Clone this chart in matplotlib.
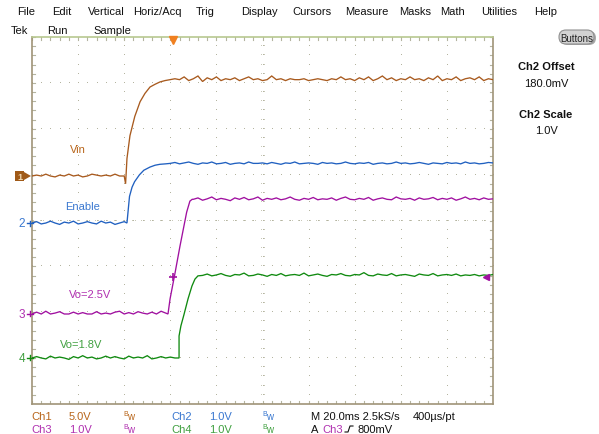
import matplotlib
matplotlib.use('Agg')
import matplotlib.pyplot as plt
from matplotlib.patches import FancyBboxPatch, Rectangle, Polygon
import numpy as np

plt.rcParams['font.family'] = ['Liberation Sans', 'DejaVu Sans']

# ---------------- data (time in ms, voltage in V) ----------------
vin_t = [*range(0, 41, 2), 40.6, 41.2, 42.5, 44.6, 46.9, 49.0, 51.2, 53.4, 55.5, 57.7, 59.9, *range(62, 201, 2)]
vin_v = [0.0, 0.1, 0.0, 0.2, 0.0, -0.1, 0.1, 0.0, 0.2, 0.0, 0.1, -0.1, 0.0, 0.2, 0.1, 0.0, 0.1, 0.0, 0.2, 0.0, 0.0,
         -0.85, 1.9, 4.4, 6.5, 8.1, 9.0, 9.7, 10.0, 10.25, 10.4, 10.5,
         10.6, 10.5, 10.8, 10.4, 10.6, 10.9, 10.3, 10.7, 10.5, 10.8, 10.4, 10.6, 10.5, 10.7, 10.4, 10.6, 10.8, 10.5, 10.6, 10.4,
         10.5, 10.9, 10.5, 10.6, 10.4, 10.6, 10.5, 10.5, 10.6, 10.4, 10.5, 10.6, 10.5, 10.4, 10.6, 10.5, 10.8, 10.5, 10.6, 10.4,
         10.7, 10.5, 10.8, 10.4, 10.6, 10.9, 10.5, 10.7, 10.4, 10.6, 10.5, 10.8, 10.5, 10.6, 10.4, 10.7, 10.5, 10.9, 10.4, 10.6,
         10.5, 10.8, 10.4, 10.6, 10.7, 10.5, 10.8, 10.4, 10.6, 10.5]

en_t = [*range(0, 41, 2), 41.2, 42.3, 43.4, 44.5, 46.6, 48.5, 51.2, 53.4, 55.5, 58.0, *range(60, 201, 2)]
en_v = [0.0, 0.03, -0.02, 0.0, 0.04, 0.0, -0.03, 0.02, 0.0, 0.04, -0.02, 0.0, 0.03, 0.0, -0.02, 0.04, 0.0, 0.02, -0.03, 0.0, 0.03,
        0.0, 0.58, 0.78, 0.90, 1.05, 1.15, 1.22, 1.26, 1.28, 1.29,
        1.30, 1.32, 1.29, 1.31, 1.33, 1.30, 1.28, 1.31, 1.30, 1.33, 1.29, 1.30, 1.32, 1.28, 1.30, 1.31, 1.29, 1.33, 1.30, 1.30,
        1.31, 1.29, 1.32, 1.30, 1.28, 1.31, 1.30, 1.33, 1.29, 1.30, 1.31, 1.30, 1.28, 1.32, 1.30, 1.31, 1.29, 1.30, 1.33, 1.30,
        1.29, 1.31, 1.30, 1.32, 1.28, 1.30, 1.31, 1.29, 1.30, 1.33, 1.30, 1.31, 1.29, 1.30, 1.32, 1.30, 1.28, 1.31, 1.30, 1.29,
        1.32, 1.30, 1.31, 1.29, 1.33, 1.30, 1.31, 1.29, 1.30, 1.32, 1.31]

vo25_t = [*range(0, 59, 2), 59.0, 59.9, 62.0, 64.2, 67.1, 68.5, 69.5, *range(70, 201, 2)]
vo25_v = [0.0, 0.04, 0.0, 0.06, 0.0, 0.02, 0.05, 0.0, 0.0, 0.04, 0.0, 0.03, 0.0, 0.0, 0.05, 0.0, 0.02, 0.0, 0.04, 0.06,
          0.0, 0.03, 0.0, 0.05, 0.02, 0.0, 0.04, 0.0, 0.06, 0.02,
          0.0, 0.33, 0.88, 1.48, 2.22, 2.46, 2.50,
          2.50, 2.53, 2.48, 2.51, 2.55, 2.49, 2.52, 2.50, 2.47, 2.53, 2.50, 2.54, 2.49, 2.51, 2.55, 2.48, 2.52, 2.50, 2.53, 2.49,
          2.51, 2.55, 2.50, 2.48, 2.52, 2.50, 2.54, 2.49, 2.51, 2.50, 2.53, 2.48, 2.52, 2.55, 2.50, 2.49, 2.52, 2.50, 2.54, 2.48,
          2.51, 2.53, 2.50, 2.49, 2.55, 2.51, 2.50, 2.52, 2.48, 2.53, 2.50, 2.51, 2.54, 2.49, 2.52, 2.50, 2.53, 2.48, 2.51, 2.55,
          2.50, 2.52, 2.49, 2.53, 2.50, 2.51]

vo18_t = [*range(0, 63, 2), 63.8, 63.8, 64.6, 65.9, 67.7, 69.4, 70.7, 72.0, *range(74, 201, 2)]
vo18_v = [0.0, 0.03, 0.0, -0.02, 0.04, 0.0, 0.02, 0.0, -0.03, 0.03, 0.0, 0.05, 0.0, 0.02, -0.02, 0.0, 0.04, 0.0, 0.03, 0.0,
          -0.02, 0.04, 0.0, 0.02, 0.0, 0.05, -0.02, 0.0, 0.03, 0.0, 0.02, 0.0,
          0.0, 0.48, 0.70, 0.94, 1.29, 1.57, 1.72, 1.79,
          1.80, 1.83, 1.79, 1.81, 1.84, 1.80, 1.78, 1.82, 1.81, 1.85, 1.79, 1.80, 1.83, 1.81, 1.78, 1.82, 1.80, 1.84, 1.79, 1.81,
          1.82, 1.80, 1.85, 1.79, 1.81, 1.83, 1.80, 1.78, 1.82, 1.81, 1.84, 1.80, 1.79, 1.82, 1.81, 1.86, 1.80, 1.79, 1.83, 1.81,
          1.80, 1.84, 1.79, 1.81, 1.82, 1.80, 1.78, 1.83, 1.81, 1.80, 1.84, 1.79, 1.81, 1.82, 1.80, 1.83, 1.79, 1.81, 1.80, 1.82,
          1.79, 1.81, 1.80, 1.82]

trace_labels = ["Vin", "Enable", "Vo=2.5V", "Vo=1.8V"]
ch_names = ["Ch1", "Ch2", "Ch3", "Ch4"]
ch_scales_txt = ["5.0V", "1.0V", "1.0V", "1.0V"]
ch_scale = [5.0, 1.0, 1.0, 1.0]          # V/div
trig_time = 61.2                          # ms
trig_level = 0.8                          # V on Ch3
menu_items = ["File", "Edit", "Vertical", "Horiz/Acq", "Trig", "Display", "Cursors",
              "Measure", "Masks", "Math", "Utilities", "Help"]
status_items = ["Tek", "Run", "Sample"]
side_texts = ["Ch2 Offset", "180.0mV", "Ch2 Scale", "1.0V"]
horiz_txt = "M 20.0ms 2.5kS/s"
rate_txt = "400\u00b5s/pt"
trig_txt = "800mV"

# ---------------- style ----------------
W, H = 599, 435
L, T, R, B = 32, 38, 493, 405
offsets = [4.97, 3.945, 1.962, 1.003]    # ground positions in divisions
trace_col = ['#A85A1E', '#2060C0', '#A010A0', '#108A10']
text_col = ['#B8651A', '#3A78D0', '#B030B0', '#40A040']
grid_col = '#B4B4A0'

fig = plt.figure(figsize=(W / 100, H / 100), dpi=100)
fig.patch.set_facecolor('white')
ax = fig.add_axes([L / W, 1 - B / H, (R - L) / W, (B - T) / H])
ax.set_xlim(0, 200)
ax.set_ylim(0, 8)
ax.set_xticks([])
ax.set_yticks([])
for s in ['left', 'bottom', 'right']:
    ax.spines[s].set_color('#A09478')
    ax.spines[s].set_linewidth(1.2)
ax.spines['top'].set_color('#B8C890')
ax.spines['top'].set_linewidth(1.2)

# graticule dots
for i in range(1, 10):
    ys = np.arange(0, 8.001, 0.2)
    ax.plot(np.full_like(ys, i * 20.0), ys, ',', color=grid_col, zorder=1)
for j in range(1, 8):
    xs = np.arange(0, 200.001, 4)
    ax.plot(xs, np.full_like(xs, float(j)), ',', color=grid_col, zorder=1)
# edge ticks and center ticks
tx = 0.065 * 20
ty = 0.065
cgrid = '#C8C8B8'
for xv in np.arange(0, 200.001, 4):
    ax.plot([xv, xv], [0, ty], color=grid_col, lw=0.8, zorder=1)
    ax.plot([xv, xv], [8 - ty, 8], color=grid_col, lw=0.8, zorder=1)
    ax.plot([xv - 0.6, xv + 0.6], [4, 4], ',', color=cgrid, zorder=1)
for yv in np.arange(0, 8.001, 0.2):
    ax.plot([0, tx], [yv, yv], color=grid_col, lw=0.8, zorder=1)
    ax.plot([200 - tx, 200], [yv, yv], color=grid_col, lw=0.8, zorder=1)
    ax.plot([99.4, 100.6], [yv, yv], ',', color=cgrid, zorder=1)

# traces
traces = [(vin_t, vin_v), (en_t, en_v), (vo25_t, vo25_v), (vo18_t, vo18_v)]
for k, (t, v) in enumerate(traces):
    y = offsets[k] + np.asarray(v) / ch_scale[k]
    ax.plot(t, y, color=trace_col[k], lw=0.95, zorder=3, solid_joinstyle='miter')

# trigger markers
ax.plot([trig_time], [offsets[2] + trig_level / ch_scale[2]], marker='+', color=trace_col[2],
        ms=6, mew=1.2, zorder=4)
ax.plot([197], [offsets[2] + trig_level / ch_scale[2]], marker='<', color=trace_col[2],
        ms=5, zorder=4, clip_on=False)
ax.plot([trig_time], [7.93], marker='v', color='#F08020', ms=6, zorder=4, clip_on=False)

# overlay in pixel coordinates
ov = fig.add_axes([0, 0, 1, 1], zorder=5)
ov.set_xlim(0, W)
ov.set_ylim(H, 0)
ov.axis('off')
ov.patch.set_alpha(0)

fs = 8
menu_x = [17, 52, 88, 133, 196, 241, 292, 345, 399, 440, 481, 534]
for x, s in zip(menu_x, menu_items):
    ov.text(x, 12, s, fontsize=fs, va='center', ha='left', color='#111111')
for x, s in zip([11, 47, 93], status_items):
    ov.text(x, 31, s, fontsize=fs, va='center', ha='left', color='#111111')

# Buttons pill
ov.add_patch(FancyBboxPatch((561, 32), 35, 14, boxstyle='round,pad=0,rounding_size=7',
                            fc='#A8A8A8', ec='none'))
ov.add_patch(FancyBboxPatch((559, 31), 35, 14, boxstyle='round,pad=0,rounding_size=7',
                            fc='#D2D2D2', ec='#909090', lw=0.8))
ov.text(577, 38.5, "Buttons", fontsize=7, va='center', ha='center', color='#222222')

side_y = [66.5, 84, 115, 131]
for i, (yy, s) in enumerate(zip(side_y, side_texts)):
    ov.text(546, yy, s, fontsize=8, va='center', ha='center', color='#111111',
            fontweight='bold' if i % 2 == 0 else 'normal')

# trace labels
lab_pos = [(70, 150), (65, 207), (69, 295), (60, 345)]
for k, (x, yy) in enumerate(lab_pos):
    ov.text(x, yy, trace_labels[k], fontsize=fs, va='center', ha='left', color=text_col[k])

# ground markers
gy = [B - offsets[k] * (B - T) / 8 for k in range(4)]
ov.add_patch(Rectangle((15, gy[0] - 5), 9, 10, fc='#A05A18', ec='none'))
ov.text(19.5, gy[0], "1", fontsize=6.5, va='center', ha='center', color='#F0D8B0', fontweight='bold')
ov.add_patch(Polygon([[24, gy[0] - 4], [31, gy[0]], [24, gy[0] + 4]], closed=True, fc='#A05A18', ec='none'))
for k in range(1, 4):
    ov.text(25, gy[k], str(k + 1), fontsize=8.5, va='center', ha='right', color=text_col[k])
    ov.plot([27, 33], [gy[k], gy[k]], color=trace_col[k], lw=1)
    ov.plot([30, 30], [gy[k] - 2.5, gy[k] + 2.5], color=trace_col[k], lw=1)

# bottom status
rows = [417, 430]
cols = [(31, 69, 123), (171, 209, 262)]
for k in range(4):
    r = rows[k // 2]
    cx = cols[k % 2]
    ov.text(cx[0], r, ch_names[k], fontsize=fs, va='center', ha='left', color=text_col[k])
    ov.text(cx[1], r, ch_scales_txt[k], fontsize=fs, va='center', ha='left', color=text_col[k])
    ov.text(cx[2], r - 2, "B", fontsize=5, va='center', ha='left', color=text_col[k])
    ov.text(cx[2] + 4, r + 0.5, "w", fontsize=7, va='center', ha='left', color=text_col[k])
ov.text(311, rows[0], horiz_txt, fontsize=fs, va='center', ha='left', color='#111111')
ov.text(413, rows[0], rate_txt, fontsize=fs, va='center', ha='left', color='#111111')
ov.text(311, rows[1], "A", fontsize=fs, va='center', ha='left', color='#111111')
ov.text(322, rows[1], ch_names[2], fontsize=fs, va='center', ha='left', color=text_col[2])
ov.plot([345, 348, 350, 353], [rows[1] + 3, rows[1] + 3, rows[1] - 3, rows[1] - 3], color='#111111', lw=0.8)
ov.text(358, rows[1], trig_txt, fontsize=fs, va='center', ha='left', color='#111111')

fig.savefig('out.png', dpi=100)
